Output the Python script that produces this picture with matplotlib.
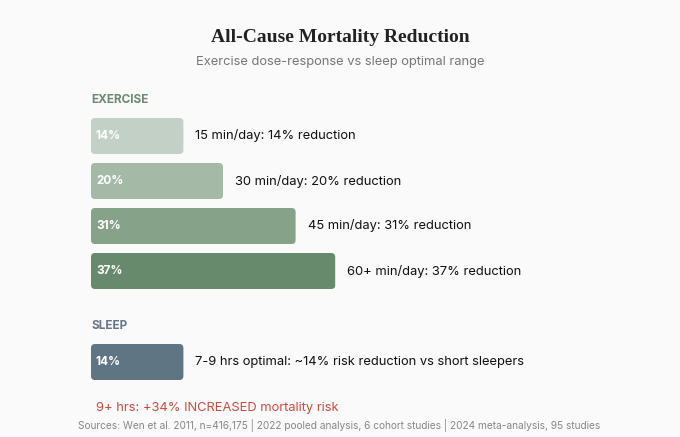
import matplotlib
matplotlib.use("Agg")
import matplotlib.pyplot as plt
from matplotlib.patches import FancyBboxPatch

plt.rcParams['font.family'] = ['Inter', 'DejaVu Sans']

# Données
exercise = [
    ("15 min/day: 14% reduction", 14, "#c3d0c5"),
    ("30 min/day: 20% reduction", 20, "#a4b9a6"),
    ("45 min/day: 31% reduction", 31, "#86a38a"),
    ("60+ min/day: 37% reduction", 37, "#678a6c"),
]
sleep = [("7-9 hrs optimal: ~14% risk reduction vs short sleepers", 14, "#5f7584")]

W, H = 680, 437
fig = plt.figure(figsize=(W / 100, H / 100), dpi=100)
fig.patch.set_facecolor("#fafafa")
ax = fig.add_axes([0, 0, 1, 1])
ax.set_xlim(0, W)
ax.set_ylim(H, 0)
ax.axis("off")

x0 = 91
scale = 6.6  # px par %
bar_h = 36

def draw_bar(yc, label, val, color):
    w = max(val * scale, 90)
    ax.add_patch(FancyBboxPatch((x0, yc - bar_h / 2), w, bar_h,
                                boxstyle="round,pad=0,rounding_size=4",
                                fc=color, ec="none"))
    ax.text(x0 + 5, yc, f"{val}%", color="white", fontsize=8.5, fontweight="bold",
            va="center", ha="left")
    ax.text(x0 + w + 12, yc, label, color="#111111", fontsize=9.3, va="center")

ax.text(W / 2, 38, "All-Cause Mortality Reduction", ha="center", va="center",
        fontsize=14, fontweight="bold", family="Liberation Serif", color="#222222")
ax.text(W / 2, 62, "Exercise dose-response vs sleep optimal range", ha="center",
        va="center", fontsize=9.3, color="#777777")

ax.text(x0, 100, "EXERCISE", fontsize=8.5, fontweight="bold", color="#6d8a70", va="center")
for i, (label, val, color) in enumerate(exercise):
    draw_bar(136 + i * 45, label, val, color)

ax.text(x0, 326, "SLEEP", fontsize=8.5, fontweight="bold", color="#667888", va="center")
for label, val, color in sleep:
    draw_bar(362, label, val, color)

ax.text(96, 408, "9+ hrs: +34% INCREASED mortality risk", fontsize=9.3,
        color="#cc4b3c", va="center")
ax.text(W / 2 - 1, 425, "Sources: Wen et al. 2011, n=416,175 | 2022 pooled analysis, 6 cohort studies | 2024 meta-analysis, 95 studies",
        ha="center", va="center", fontsize=7.3, color="#888888")

fig.savefig("out.png", dpi=100, facecolor=fig.get_facecolor())
